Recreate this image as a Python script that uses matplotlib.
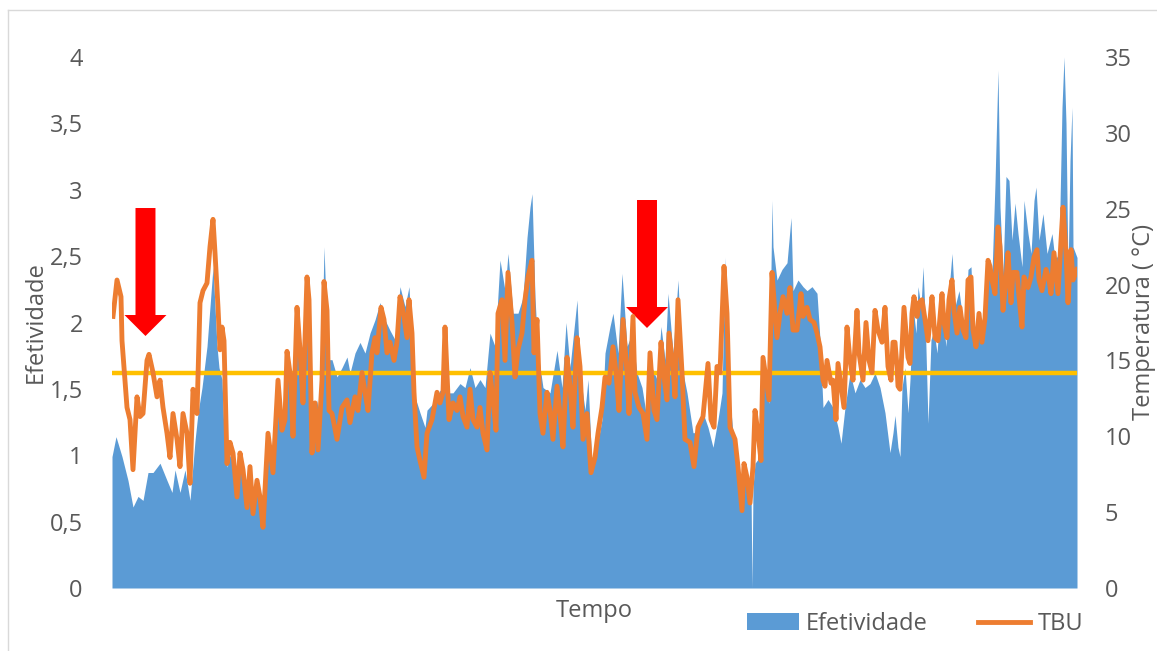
import numpy as np
import matplotlib.pyplot as plt
from matplotlib.patches import FancyArrow, Patch
from matplotlib.lines import Line2D

plt.rcParams['font.family'] = ['Open Sans', 'DejaVu Sans']

# TBU (right axis, deg C) - sample index vs value
tbu_t = [1, 5, 9, 10, 13, 15, 18, 21, 25, 28, 31, 35, 37, 41, 45, 48, 51, 55, 58, 61,
         65, 68, 71, 75, 78, 81, 85, 88, 91, 95, 98, 101, 103, 106, 108, 110, 112, 115, 118, 121,
         125, 128, 131, 135, 138, 141, 145, 148, 151, 156, 161, 166, 170, 173, 175, 179, 181, 185, 188, 191,
         195, 197, 200, 203, 206, 210, 212, 215, 217, 220, 225, 230, 235, 238, 243, 246, 250, 253, 256, 260,
         263, 265, 269, 272, 275, 278, 282, 285, 288, 291, 295, 297, 300, 302, 305, 308, 312, 315, 320, 325,
         328, 331, 333, 335, 337, 341, 345, 348, 351, 355, 358, 361, 365, 368, 371, 375, 378, 381, 384, 386,
         390, 393, 396, 400, 403, 406, 410, 413, 416, 420, 422, 425, 428, 431, 435, 438, 441, 445, 448, 451,
         455, 458, 461, 465, 468, 471, 475, 479, 483, 486, 490, 493, 497, 501, 504, 507, 511, 515, 517, 521,
         523, 527, 531, 535, 538, 542, 545, 549, 552, 555, 557, 561, 563, 566, 570, 573, 578, 582, 586, 591,
         596, 599, 602, 605, 608, 612, 615, 618, 623, 626, 630, 632, 635, 638, 641, 643, 646, 649, 651, 655,
         657, 660, 663, 665, 668, 671, 675, 678, 681, 685, 689, 691, 695, 698, 702, 705, 708, 711, 713, 715,
         719, 721, 724, 726, 730, 732, 735, 738, 741, 745, 747, 751, 754, 757, 760, 763, 766, 770, 773, 776,
         779, 781, 783, 785, 786, 788, 792, 796, 798, 800, 802, 805, 807, 810, 813, 816, 818, 820, 823, 826,
         830, 832, 835, 837, 840, 842, 845, 848, 851, 854, 856, 859, 861, 864, 867, 870, 873, 876, 878, 880,
         883, 886, 888, 891, 894, 896, 899, 901, 905, 907, 910, 912, 916, 919, 922, 925, 927, 930, 934, 937,
         939, 942, 946, 949, 951, 954, 956, 959, 961, 965]
tbu = [17.9, 20.3, 19.2, 16.3, 13.7, 11.9, 11.1, 7.8, 12.6, 11.3, 11.5, 15.0, 15.4, 14.2, 12.6, 13.7, 11.9, 10.2, 8.6, 11.5,
       9.8, 8.0, 11.5, 10.2, 6.9, 13.1, 11.5, 18.8, 19.6, 20.1, 22.5, 24.3, 22.1, 18.5, 15.7, 17.2, 16.3, 8.2, 9.6, 8.9,
       6.0, 8.9, 7.8, 5.3, 8.0, 4.9, 7.1, 6.0, 4.0, 10.2, 7.6, 13.7, 10.4, 11.1, 15.6, 13.7, 10.0, 18.5, 15.7, 12.2,
       20.5, 19.0, 8.9, 12.2, 9.1, 13.7, 20.2, 18.3, 11.7, 11.5, 9.8, 11.9, 12.4, 10.9, 12.6, 11.7, 14.2, 12.9, 11.7, 15.5,
       16.5, 15.5, 18.5, 17.7, 15.5, 16.2, 15.0, 16.2, 19.2, 18.3, 16.5, 19.0, 16.8, 12.9, 9.3, 8.4, 7.3, 10.2, 11.1, 12.9,
       12.2, 12.9, 17.2, 14.2, 11.1, 12.2, 11.7, 12.6, 11.3, 10.6, 13.1, 11.1, 10.6, 11.9, 10.2, 9.1, 14.2, 12.4, 10.4, 18.1,
       19.0, 15.0, 20.8, 17.5, 13.9, 15.7, 16.8, 19.0, 20.5, 21.6, 15.5, 17.7, 11.5, 10.2, 12.9, 11.7, 9.8, 13.3, 11.5, 9.3,
       15.2, 13.3, 10.6, 16.5, 14.6, 9.8, 11.5, 7.6, 8.6, 10.2, 11.9, 13.9, 13.5, 15.9, 14.2, 11.7, 17.7, 14.2, 11.5, 17.9,
       12.9, 11.9, 11.5, 9.8, 15.5, 11.7, 11.1, 16.2, 13.9, 12.4, 16.8, 14.6, 12.6, 19.0, 14.2, 9.8, 9.6, 8.0, 10.6, 11.3,
       14.8, 11.1, 10.6, 14.6, 14.2, 21.2, 18.1, 10.6, 9.8, 8.0, 5.1, 8.2, 7.3, 5.6, 8.0, 11.7, 10.2, 8.4, 15.2, 13.3,
       12.4, 20.8, 18.1, 16.5, 18.1, 19.2, 18.1, 19.8, 17.0, 17.0, 19.4, 17.9, 18.5, 17.7, 17.5, 16.8, 15.9, 13.7, 13.3, 15.0,
       13.5, 13.7, 11.1, 14.8, 12.9, 11.9, 17.2, 15.0, 13.7, 18.3, 15.5, 13.7, 17.5, 15.0, 14.2, 18.3, 17.0, 16.2, 18.5, 14.6,
       13.7, 16.2, 16.2, 14.6, 13.3, 13.1, 18.5, 15.2, 14.8, 18.1, 19.2, 17.9, 18.8, 19.0, 17.7, 16.3, 17.7, 19.2, 16.5, 16.3,
       19.4, 17.5, 16.5, 19.0, 20.3, 18.3, 16.8, 18.5, 17.0, 16.5, 20.3, 20.5, 17.0, 15.9, 18.1, 16.2, 17.8, 21.6, 21.2, 20.3,
       19.4, 23.8, 22.5, 18.3, 20.3, 22.1, 18.8, 20.8, 20.8, 19.2, 17.2, 20.5, 19.8, 20.5, 21.8, 22.3, 20.3, 19.6, 21.0, 20.3,
       19.4, 22.1, 19.4, 22.9, 25.1, 22.1, 18.8, 22.3, 20.3, 21.0]

# Efetividade (left axis)
efet_t = [0, 4, 10, 16, 21, 26, 31, 36, 41, 48, 55, 60, 63, 68, 73, 78, 83, 86, 90, 95,
          98, 101, 103, 105, 107, 110, 112, 115, 118, 121, 125, 128, 131, 135, 138, 141, 145, 148, 151, 154,
          156, 161, 166, 170, 175, 180, 185, 190, 191, 195, 198, 200, 205, 208, 212, 216, 220, 225, 230, 235,
          238, 243, 248, 253, 258, 263, 268, 273, 278, 283, 288, 293, 297, 301, 303, 308, 313, 315, 321, 328,
          335, 341, 348, 353, 358, 363, 368, 373, 378, 383, 388, 393, 396, 401, 406, 411, 415, 418, 420, 423,
          426, 431, 438, 445, 450, 454, 458, 465, 468, 473, 476, 480, 485, 490, 493, 498, 501, 506, 510, 515,
          520, 525, 530, 535, 540, 545, 549, 553, 556, 561, 566, 570, 575, 581, 586, 591, 596, 601, 606, 610,
          613, 616, 621, 628, 633, 635, 638, 639, 640, 641, 643, 648, 651, 655, 657, 660, 661, 665, 670, 675,
          679, 681, 686, 691, 695, 700, 705, 708, 711, 716, 721, 726, 729, 733, 738, 743, 748, 753, 758, 763,
          768, 773, 778, 781, 783, 786, 788, 790, 793, 796, 798, 801, 804, 806, 809, 811, 813, 816, 819, 822,
          825, 828, 831, 834, 836, 840, 843, 847, 850, 853, 856, 859, 862, 866, 869, 872, 876, 880, 883, 886,
          888, 891, 894, 897, 900, 903, 906, 910, 912, 916, 919, 922, 924, 927, 931, 935, 940, 943, 947, 950,
          952, 954, 956, 958, 960, 961, 965]
efet = [0.99, 1.14, 0.99, 0.81, 0.61, 0.69, 0.66, 0.87, 0.87, 0.94, 0.81, 0.72, 0.89, 0.72, 0.89, 0.66, 1.11, 1.32, 1.51, 1.82,
        2.12, 2.42, 2.12, 1.82, 1.66, 1.57, 1.17, 0.91, 1.0, 0.95, 0.7, 0.95, 0.85, 0.62, 0.88, 0.58, 0.8, 0.68, 0.5, 1.05,
        1.17, 0.99, 1.49, 1.27, 1.74, 1.51, 2.02, 1.77, 1.39, 2.32, 2.02, 1.06, 1.42, 1.17, 2.57, 1.72, 1.72, 1.59, 1.66, 1.74,
        1.62, 1.77, 1.85, 1.77, 1.92, 2.02, 2.15, 2.02, 1.94, 1.87, 2.27, 2.12, 2.27, 1.66, 1.44, 1.32, 1.21, 1.34, 1.39, 1.49,
        1.47, 1.47, 1.54, 1.51, 1.66, 1.51, 1.57, 1.51, 1.92, 1.82, 2.47, 2.24, 2.52, 2.07, 2.07, 2.19, 2.64, 2.87, 2.97, 2.19,
        1.77, 1.51, 1.47, 1.79, 1.51, 2.0, 1.66, 2.17, 1.62, 1.34, 1.57, 0.89, 1.06, 1.27, 1.77, 1.97, 2.07, 1.77, 2.37, 1.82,
        1.92, 1.62, 1.51, 1.27, 1.66, 1.57, 1.97, 1.72, 2.22, 1.77, 2.32, 1.66, 1.47, 1.17, 1.17, 1.32, 1.21, 1.06, 1.27, 1.47,
        2.49, 1.57, 1.17, 0.81, 0.87, 0.81, 0.66, 0.76, 0.0, 0.76, 0.94, 0.99, 1.66, 1.47, 1.39, 2.92, 2.57, 2.32, 2.40, 2.45,
        2.79, 2.24, 2.32, 2.27, 2.24, 2.27, 2.22, 1.87, 1.36, 1.42, 1.36, 1.21, 1.09, 1.36, 1.62, 1.47, 1.57, 1.51, 1.54, 1.62,
        1.51, 1.32, 1.02, 1.17, 1.3, 1.06, 0.99, 1.51, 1.66, 1.32, 1.57, 2.12, 1.92, 2.27, 2.12, 2.42, 2.07, 1.24, 1.87, 1.94,
        1.77, 2.07, 2.02, 1.82, 2.15, 2.52, 2.12, 2.24, 2.07, 1.94, 2.40, 2.42, 1.87, 2.02, 1.87, 2.12, 2.49, 2.37, 3.05, 3.9,
        2.87, 2.37, 3.10, 3.07, 2.62, 2.90, 2.67, 2.42, 2.92, 2.67, 2.52, 2.92, 3.02, 2.62, 2.82, 2.52, 2.67, 2.47, 2.52, 3.62,
        4.0, 3.50, 2.37, 3.22, 3.62, 2.57, 2.49]

limite = 1.62  # reference line (left axis)

left_ticks = [0, 0.5, 1, 1.5, 2, 2.5, 3, 3.5, 4]
left_labels = ['0', '0,5', '1', '1,5', '2', '2,5', '3', '3,5', '4']
right_ticks = [0, 5, 10, 15, 20, 25, 30, 35]

blue = '#5B9BD5'
orange = '#ED7D31'
gold = '#FFC000'
grey = '#595959'
fs = 17

fig = plt.figure(figsize=(11.57, 6.51), dpi=100)
ax = fig.add_axes([112/1157, 63/651, 965/1157, 531/651])
ax2 = ax.twinx()

ax.fill_between(efet_t, efet, 0, color=blue, linewidth=0)
ax.axhline(limite, color=gold, linewidth=3.2)
ax2.plot(tbu_t, tbu, color=orange, linewidth=3.5, solid_joinstyle='round')

ax.set_xlim(0, 965)
ax.set_ylim(0, 4)
ax2.set_ylim(0, 35)
ax.set_yticks(left_ticks)
ax.set_yticklabels(left_labels)
ax2.set_yticks(right_ticks)
ax.set_xticks([])

for a in (ax, ax2):
    for s in a.spines.values():
        s.set_visible(False)
    a.tick_params(length=0, labelsize=fs, labelcolor=grey)
ax.tick_params(axis='y', pad=21)
ax2.tick_params(axis='y', pad=20)

ax.set_xlabel('Tempo', fontsize=fs, color=grey, labelpad=8)
ax.set_ylabel('Efetividade', fontsize=fs, color=grey)
ax.yaxis.set_label_coords(-0.0663, 0.5)
ax2.set_ylabel('Temperatura ( °C)', fontsize=fs, color=grey, rotation=90)
ax2.yaxis.set_label_coords(1.057, 0.5)

# red arrows
for xc, ytop in [(0.0347, 0.7156), (0.5544, 0.7307)]:
    ax2.add_patch(FancyArrow(xc, ytop, 0, -0.241, width=0.0207, head_width=0.0435,
                             head_length=0.0395, length_includes_head=True,
                             color='#FF0000', linewidth=0, transform=ax2.transAxes))

handles = [Patch(facecolor=blue, edgecolor='none'),
           Line2D([], [], color=orange, linewidth=3.5)]
fig.legend(handles, ['Efetividade', 'TBU'], loc='center right', bbox_to_anchor=(0.936, 0.0415),
           ncol=2, frameon=False, fontsize=fs, labelcolor=grey, borderpad=0, borderaxespad=0,
           handlelength=2.2, handletextpad=0.3, columnspacing=2.15)

# chart frame
fig.add_artist(Line2D([8/1157, 8/1157], [0, 641/651], color='#D9D9D9', linewidth=1))
fig.add_artist(Line2D([8/1157, 1], [641/651, 641/651], color='#D9D9D9', linewidth=1))

fig.savefig('out.png', dpi=100)
